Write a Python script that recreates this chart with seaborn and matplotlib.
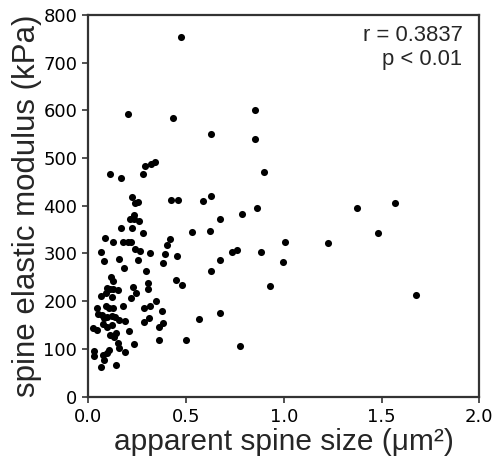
import matplotlib
matplotlib.use("Agg")
import matplotlib.pyplot as plt
import seaborn as sns
import pandas as pd

spine_size = [
    0.473, 0.205, 0.435, 0.851, 0.629, 0.851, 0.899, 0.111, 0.169, 0.281,
    0.292, 0.319, 0.339, 0.222, 0.239, 0.256, 0.421, 0.460, 0.588, 0.628,
    0.861, 0.788, 0.672, 0.235, 0.213, 0.234, 0.261, 0.169, 0.225, 0.281,
    0.529, 0.624, 0.084, 0.128, 0.179, 0.201, 0.218, 0.418, 0.404, 0.240,
    0.264, 0.063, 0.316, 0.392, 0.452, 0.735, 0.762, 0.883, 0.080, 0.157,
    0.253, 0.384, 0.675, 0.184, 0.297, 0.626, 0.115, 0.125, 0.450, 0.481,
    0.307, 0.307, 0.227, 0.097, 0.111, 0.128, 0.150, 0.091, 0.066, 0.120,
    0.242, 0.217, 0.346, 0.043, 0.091, 0.107, 0.128, 0.179, 0.285, 0.316,
    0.377, 0.051, 0.068, 0.080, 0.094, 0.120, 0.138, 0.157, 0.188, 0.312,
    0.568, 0.674, 0.077, 0.094, 0.120, 0.285, 0.380, 0.363, 0.026, 0.043,
    0.208, 0.111, 0.133, 0.142, 0.154, 0.159, 0.234, 0.363, 0.500, 0.776,
    0.029, 0.029, 0.077, 0.094, 0.107, 0.189, 0.080, 0.063, 0.142, 1.373,
    1.567, 1.483, 1.006, 1.226, 0.998, 0.929, 1.676,
]
modulus = [
    753, 592, 583, 601, 550, 541, 471, 467, 458, 467,
    484, 488, 492, 419, 406, 408, 413, 412, 410, 420,
    396, 382, 372, 381, 372, 372, 367, 353, 353, 342,
    344, 346, 332, 324, 325, 325, 324, 330, 318, 309,
    305, 303, 300, 299, 295, 302, 307, 302, 284, 288,
    286, 280, 286, 269, 264, 263, 250, 242, 244, 234,
    237, 225, 230, 228, 225, 225, 223, 216, 211, 208,
    216, 206, 200, 186, 190, 186, 186, 190, 185, 190,
    179, 174, 171, 164, 166, 169, 167, 160, 158, 165,
    163, 176, 153, 146, 150, 156, 155, 145, 143, 139,
    138, 128, 125, 134, 112, 102, 110, 118, 118, 106,
    95, 85, 87, 92, 98, 93, 77, 62, 66, 395,
    406, 342, 323, 321, 282, 232, 212,
]
x_ticks = [0.0, 0.5, 1.0, 1.5, 2.0]
y_ticks = [0, 100, 200, 300, 400, 500, 600, 700, 800]
stat_lines = ["r = 0.3837", "p < 0.01"]

df = pd.DataFrame({"size": spine_size, "modulus": modulus})

sns.set_style("white")
plt.rcParams["font.family"] = ["DejaVu Sans"]

fig = plt.figure(figsize=(4.95, 4.61), dpi=100)
ax = fig.add_axes([0.1784, 0.1399, 0.9683 - 0.1784, 0.9675 - 0.1399])

sns.scatterplot(data=df, x="size", y="modulus", ax=ax, color="black",
                s=26, linewidth=0, legend=False)

ax.set_xlim(0, 2.0)
ax.set_ylim(0, 800)
ax.set_xticks(x_ticks)
ax.set_xticklabels([f"{t:.1f}" for t in x_ticks])
ax.set_yticks(y_ticks)
ax.set_yticklabels([str(t) for t in y_ticks])
ax.tick_params(axis="both", direction="out", length=4.5, width=1.2,
               labelsize=13, color="#333333", labelcolor="black",
               left=True, bottom=True)
for sp in ax.spines.values():
    sp.set_visible(True)
    sp.set_linewidth(1.6)
    sp.set_color("#333333")

fam = ["Liberation Sans", "DejaVu Sans"]
ax.set_xlabel("apparent spine size (μm²)", labelpad=2, family=fam, size=21.5)
ax.set_ylabel("spine elastic modulus (kPa)", labelpad=1, family=fam, size=22.5)

ax.text(0.957, 0.975, "\n".join(stat_lines), transform=ax.transAxes,
        ha="right", va="top", family=fam, size=15.8, linespacing=1.2)

fig.savefig("out.png", dpi=100)
